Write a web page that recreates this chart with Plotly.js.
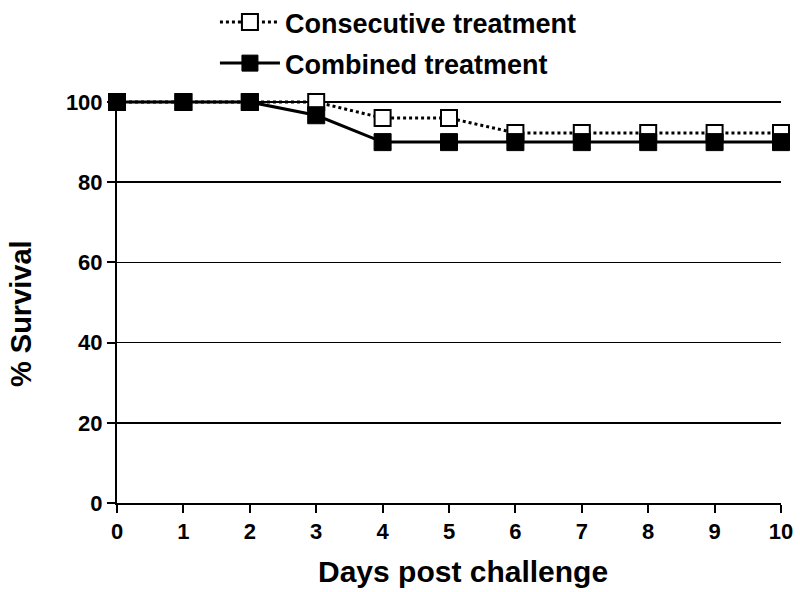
<!DOCTYPE html>
<html>
<head>
<meta charset="utf-8">
<script src="https://cdn.plot.ly/plotly-3.0.1.min.js"></script>
<style>html,body{margin:0;padding:0;background:#fff;}#chart{width:800px;height:592px;}</style>
</head>
<body>
<div id="chart"></div>
<script>
const days = [0,1,2,3,4,5,6,7,8,9,10];
const consecutive = [100,100,100,100,96,96,92.3,92.3,92.3,92.3,92.3];
const combined = [100,100,100,96.7,90,90,90,90,90,90,90];
const seriesNames = ["Consecutive treatment","Combined treatment"];
const yTicks = [0,20,40,60,80,100];
const xTicks = [0,1,2,3,4,5,6,7,8,9,10];
const xTitle = "Days post challenge";
const yTitle = "% Survival";

const F = "Arial, 'Liberation Sans', sans-serif";

const traces = [
  {
    x: days, y: consecutive, name: seriesNames[0], type: 'scatter', mode: 'lines+markers',
    legendgroup: 'a', cliponaxis: false,
    line: {color: '#000', width: 3, dash: 'dot'},
    marker: {symbol: 'square', size: 16, color: '#fff', line: {color: '#000', width: 2}}
  },
  {
    x: days, y: combined, name: seriesNames[1], type: 'scatter', mode: 'lines+markers',
    legendgroup: 'b', cliponaxis: false,
    line: {color: '#000', width: 3},
    marker: {symbol: 'square', size: 17, color: '#000', line: {color: '#000', width: 1}}
  }
];

const layout = {
  width: 800, height: 592,
  paper_bgcolor: '#fff', plot_bgcolor: '#fff',
  margin: {l: 117, r: 19, t: 98, b: 89, autoexpand: false},
  showlegend: true,
  legend: {
    x: 0.1475, y: 1.247, xanchor: 'left', yanchor: 'top',
    font: {family: F, size: 27, color: '#000', weight: 'bold'},
    itemwidth: 60,
    tracegroupgap: 3, bgcolor: 'rgba(0,0,0,0)'
  },
  xaxis: {
    range: [0, 10], tickvals: xTicks, ticktext: xTicks.map(String),
    showgrid: false, zeroline: false, showline: true, linecolor: '#000', linewidth: 2,
    ticks: 'outside', ticklen: 8, tickwidth: 2, tickcolor: '#000',
    tickfont: {family: F, size: 22, color: '#000', weight: 'bold'}
  },
  yaxis: {
    range: [0, 101], tickvals: yTicks, ticktext: yTicks.map(String),
    showgrid: true, gridcolor: '#000', gridwidth: 1.5, zeroline: false,
    showline: true, linecolor: '#000', linewidth: 2,
    ticks: 'outside', ticklen: 8, tickwidth: 2, tickcolor: '#000',
    tickfont: {family: F, size: 22, color: '#000', weight: 'bold'}
  },
  annotations: [
    {text: xTitle, xref: 'paper', yref: 'paper', x: 0.521, y: -0.170, xanchor: 'center', yanchor: 'middle',
     showarrow: false, font: {family: F, size: 30, color: '#000', weight: 'bold'}},
    {text: yTitle, xref: 'paper', yref: 'paper', x: -0.1446, y: 0.469, xanchor: 'center', yanchor: 'middle',
     textangle: -90, showarrow: false, font: {family: F, size: 29, color: '#000', weight: 'bold'}}
  ]
};

Plotly.newPlot('chart', traces, layout, {displayModeBar: false, staticPlot: true});
</script>
</body>
</html>
